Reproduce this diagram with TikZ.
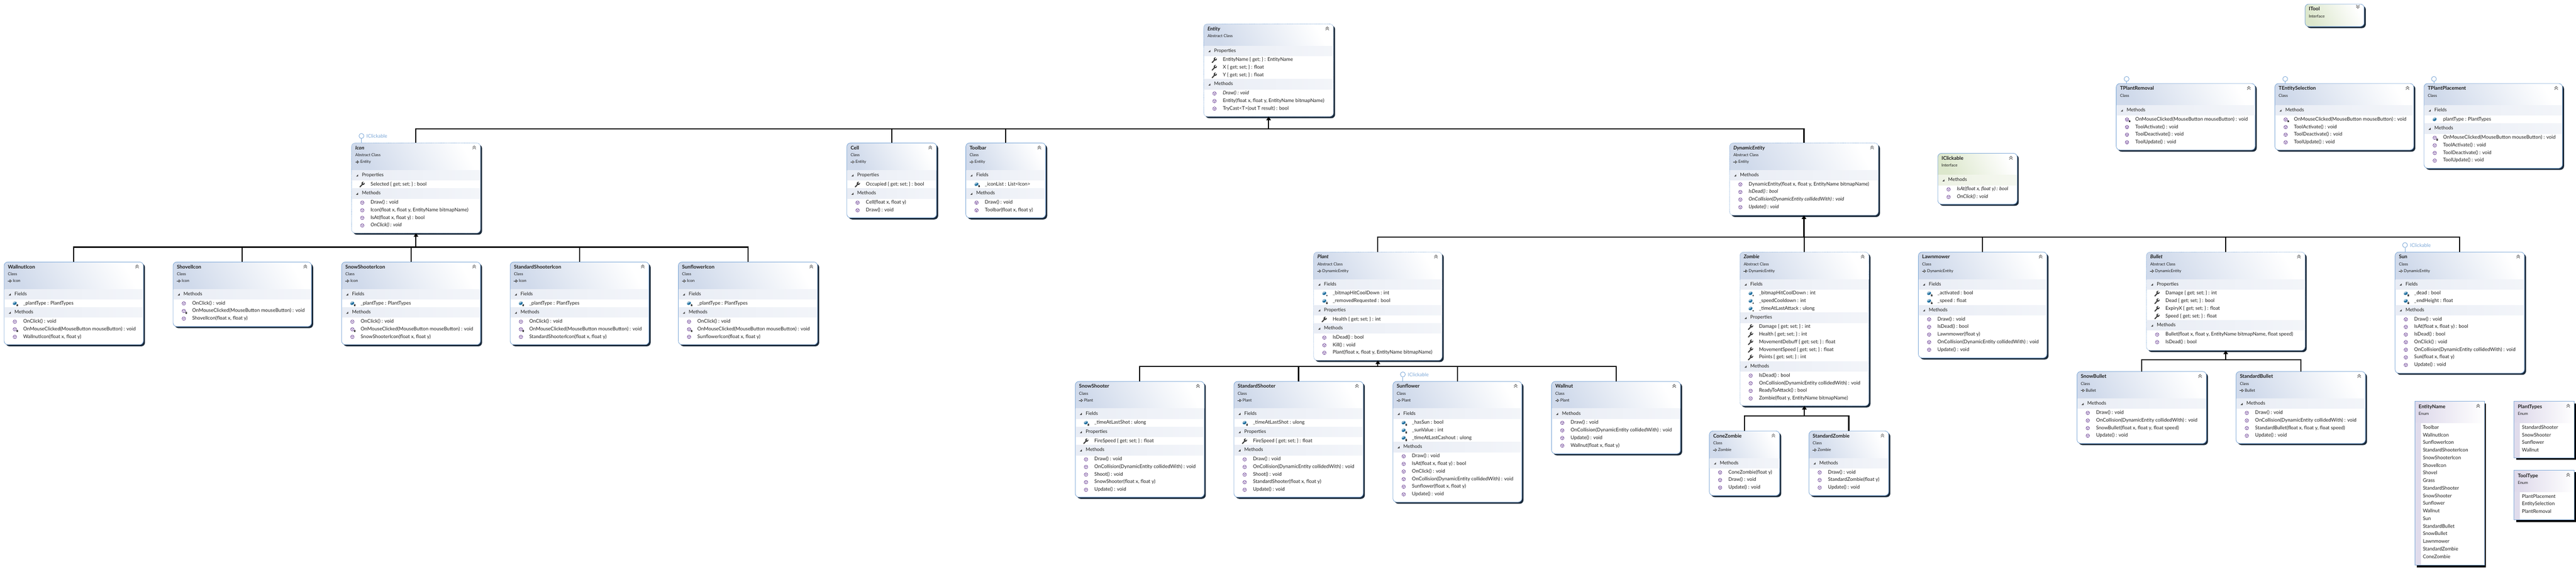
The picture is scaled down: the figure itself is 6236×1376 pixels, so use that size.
\documentclass[tikz,border=0pt]{standalone}
\usepackage{fontspec}
\setmainfont{Lato}
\usetikzlibrary{arrows.meta}
\definecolor{bord}{HTML}{7FA9D8}
\definecolor{shadowc}{HTML}{1B2A3A}
\definecolor{hdrabs}{HTML}{D0DAEB}
\definecolor{hdrcls}{HTML}{D0DAEB}
\definecolor{hdrifc}{HTML}{DCE7CC}
\definecolor{hdrenu}{HTML}{DDD8EA}
\definecolor{bandabs}{HTML}{E9EDF5}
\definecolor{bandcls}{HTML}{E9EDF5}
\definecolor{bandifc}{HTML}{EDF2E4}
\definecolor{txtc}{HTML}{1E1E1E}
\definecolor{methc}{HTML}{6A3E94}
\definecolor{fieldc}{HTML}{1F6F9F}
\definecolor{wrenchc}{HTML}{3C3C3C}
\definecolor{lolc}{HTML}{7CA8D8}
\tikzset{
  abs/.style={dash pattern=on 1.2pt off 1.2pt},
  cls/.style={},
  ifc/.style={},
  boxnode/.style={draw=bord,line width=1.1pt,inner sep=0pt,outer sep=0pt,rounded corners=9pt,anchor=north west},
  enumnode/.style={draw=bord,line width=1.1pt,inner sep=0pt,outer sep=0pt,anchor=north west},
  txtbase/.style={anchor=west,inner sep=0pt,text=txtc,text height=9pt,text depth=3pt},
  rowtxt/.style={txtbase,font=\fontsize{11.9}{14}\selectfont},
  subtxt/.style={txtbase,font=\fontsize{9.8}{13}\selectfont},
  sectxt/.style={txtbase,font=\fontsize{11.6}{14}\selectfont},
  titletxt/.style={txtbase,font=\fontsize{12.2}{15}\selectfont\bfseries},
  conn/.style={draw=black,line width=2.6pt,line join=miter},
  tipconn/.style={conn,-{Triangle[width=11pt,length=9pt]}},
  lolli/.style={circle,draw=lolc,line width=1.1pt,minimum size=12pt,inner sep=0pt,fill=white},
  lolline/.style={draw=lolc,line width=1.1pt},
  lollab/.style={txtbase,text=lolc,font=\fontsize{11.9}{14}\selectfont},
}
\newcount\lblid
\newcommand\Nd[3]{\global\advance\lblid by 1 \node[#1] (lbl\the\lblid) at (#2) {#3};}
\newcommand\setv[2]{\pgfmathsetmacro\tmpv{#2}\global\let#1\tmpv}
\newcommand\chev[3]{% x,y,dir
  \draw[draw=black!60,line width=1.2pt] ({#1-4},{#2+#3*2}) -- (#1,{#2-#3*2}) -- ({#1+4},{#2+#3*2});
  \draw[draw=black!60,line width=1.2pt] ({#1-4},{#2+#3*6}) -- (#1,{#2+#3*2}) -- ({#1+4},{#2+#3*6});}
\newcommand\classbox[9]{% name,L,T,R,B,style,title,sub,ext
  \pgfmathsetmacro\bw{#4-#2}\pgfmathsetmacro\bh{#5-#3}
  \gdef\curL{#2}\gdef\curR{#4}\gdef\curS{#6}
  \fill[shadowc,rounded corners=9pt] ({#2+4},{#3+4}) rectangle ({#4+4},{#5+4});
  \fill[white,rounded corners=9pt] (#2,#3) rectangle (#4,#5);
  \if\relax\detokenize{#9}\relax\setv\hdrb{#3+53}\else\setv\hdrb{#3+66}\fi
  \begin{scope}
    \clip[rounded corners=9pt] (#2,#3) rectangle (#4,#5);
    \shade[top color=white,bottom color=hdr#6,shading angle=-62] (#2,#3) rectangle (#4,\hdrb);
  \end{scope}
  \node[boxnode,#6,minimum width=\bw pt,minimum height=\bh pt] (#1) at (#2,#3) {};
  \Nd{titletxt}{{#2+9},{#3+13}}{#7}
  \Nd{subtxt}{{#2+9},{#3+30}}{#8}
  \if\relax\detokenize{#9}\relax\else
    \draw[draw=txtc,line width=.8pt] ({#2+9},{#3+46}) -- ({#2+14},{#3+46});
    \draw[draw=txtc,line width=.8pt,fill=white] ({#2+14},{#3+43}) -- ({#2+18},{#3+46}) -- ({#2+14},{#3+49}) -- cycle;
    \Nd{subtxt}{{#2+21},{#3+46}}{#9}
  \fi
  \setv\cyv{\hdrb-10}
  \gdef\pitchv{18.4}
}
\newcommand\sect[1]{%
  \setv\cyv{\cyv+22}\gdef\pitchv{22.2}
  \shade[left color=band\curS,right color=band\curS!55!white] ({\curL+1},{\cyv-12}) rectangle ({\curR-1},{\cyv+12});
  \fill[black!75] ({\curL+11},{\cyv+3}) -- ({\curL+16},{\cyv+3}) -- ({\curL+16},{\cyv-2}) -- cycle;
  \Nd{sectxt}{{\curL+25},\cyv}{#1}
}
\newcommand\advrow{\setv\cyv{\cyv+\pitchv}\gdef\pitchv{18.4}\setv\icx{\curL+26}}
\newcommand\micon{\begin{scope}[shift={(\icx,\cyv)}]
  \draw[draw=methc,line width=.9pt] (0,0) circle (4.2pt);
  \draw[draw=methc,line width=.7pt] (-3.6,-2) -- (0,0) -- (3.6,-2) (0,0) -- (0,4);
  \end{scope}}
\newcommand\lockic{\begin{scope}[shift={(\icx,\cyv)}]
  \fill[black!75] (4,3) rectangle (8,7);
  \draw[black!75,line width=.6pt] (6,3) circle (1.4pt);
  \end{scope}}
\newcommand\staric{\begin{scope}[shift={(\icx,\cyv)}]
  \fill[black!75] (6,5) circle (1.8pt);
  \end{scope}}
\newcommand\wicon{\begin{scope}[shift={(\icx,\cyv)}]
  \draw[draw=wrenchc,line width=2.6pt,line cap=round] (-5.5,6) -- (1,-1);
  \fill[wrenchc] (2,-2.5) circle (4pt);
  \draw[draw=white,line width=2.4pt] (2,-2.5) -- (7,-7.5);
  \end{scope}}
\newcommand\ficon{\begin{scope}[shift={(\icx,\cyv)}]
  \fill[fieldc,rotate=30] (0,-.5) ellipse (5pt and 4pt);
  \fill[fieldc!45!white,rotate=30] (0,-2.5) ellipse (4pt and 1.6pt);
  \end{scope}}
\newcommand\rowtext[1]{\Nd{rowtxt}{{\curL+46},\cyv}{#1}}
\newcommand\mrow[1]{\advrow\micon\rowtext{#1}}
\newcommand\mirow[1]{\advrow\micon\rowtext{\textit{#1}}}
\newcommand\mprow[1]{\advrow\micon\lockic\rowtext{#1}}
\newcommand\prow[1]{\advrow\wicon\rowtext{#1}}
\newcommand\frow[1]{\advrow\ficon\lockic\rowtext{#1}}
\newcommand\fsrow[1]{\advrow\ficon\staric\rowtext{#1}}
\newcommand\forow[1]{\advrow\ficon\rowtext{#1}}
\newcommand\chevat[2]{\chev{#1-15}{#2+9}{1}}
% enum box: name,L,T,R,B,title
\newcommand\enumbox[6]{%
  \pgfmathsetmacro\bw{#4-#2}\pgfmathsetmacro\bh{#5-#3}
  \gdef\curL{#2}
  \fill[black] ({#2+5},{#3+5}) rectangle ({#4+4},{#5+5});
  \fill[white] (#2,#3) rectangle (#4,#5);
  \shade[left color=hdrenu,right color=white] (#2,#3) rectangle (#4,{#3+52});
  \fill[hdrenu!90!white] (#2,{#3+52}) rectangle ({#2+14},#5);
  \node[enumnode,minimum width=\bw pt,minimum height=\bh pt] (#1) at (#2,#3) {};
  \Nd{titletxt}{{#2+9},{#3+14}}{#6}
  \Nd{subtxt}{{#2+9},{#3+31}}{Enum}
  \chevat{#4}{#3}
  \setv\cyv{#3+45.6}
}
\newcommand\erow[1]{\setv\cyv{\cyv+18.4}\Nd{rowtxt}{{\curL+19},\cyv}{#1}}
\newcommand\lolly[5]{% name,x,y,target,label
  \node[lolli] (#1) at (#2,#3) {};
  \draw[lolline] (#1.south) -- (#1.south |- #4.north);
  \if\relax\detokenize{#5}\relax\else\Nd{lollab}{{#2+12},{#3+2}}{#5}\fi
}
\newcommand\gs{\{ get; set; \} : }
\begin{document}
\begin{tikzpicture}[x=1pt,y=-1pt]
\useasboundingbox (0,0) rectangle (6236,1376);
\fill[white] (0,0) rectangle (6236,1376);

\classbox{entity}{2914}{58}{3228}{282}{abs}{\textit{Entity}}{Abstract Class}{}
\chevat{3228}{58}
\sect{Properties}
\prow{EntityName \{ get; \} : EntityName}
\prow{X \gs float}
\prow{Y \gs float}
\sect{Methods}
\mirow{Draw() : void}
\mrow{Entity(float x, float y, EntityName bitmapName)}
\mrow{TryCast<T>(out T result) : bool}

\classbox{icon}{851}{346}{1163}{564}{abs}{\textit{Icon}}{Abstract Class}{Entity}
\chevat{1163}{346}
\sect{Properties}
\prow{Selected \gs bool}
\sect{Methods}
\mrow{Draw() : void}
\mrow{Icon(float x, float y, EntityName bitmapName)}
\mrow{IsAt(float x, float y) : bool}
\mirow{OnClick() : void}

\classbox{wallnuticon}{10}{634}{347}{834}{cls}{WallnutIcon}{Class}{Icon}
\chevat{347}{634}
\sect{Fields}
\frow{\_plantType : PlantTypes}
\sect{Methods}
\mrow{OnClick() : void}
\mprow{OnMouseClicked(MouseButton mouseButton) : void}
\mrow{WallnutIcon(float x, float y)}

\classbox{shovelicon}{419}{634}{754}{790}{cls}{ShovelIcon}{Class}{Icon}
\chevat{754}{634}
\sect{Methods}
\mrow{OnClick() : void}
\mprow{OnMouseClicked(MouseButton mouseButton) : void}
\mrow{ShovelIcon(float x, float y)}

\classbox{snowshootericon}{827}{634}{1163}{834}{cls}{SnowShooterIcon}{Class}{Icon}
\chevat{1163}{634}
\sect{Fields}
\frow{\_plantType : PlantTypes}
\sect{Methods}
\mrow{OnClick() : void}
\mprow{OnMouseClicked(MouseButton mouseButton) : void}
\mrow{SnowShooterIcon(float x, float y)}

\classbox{standardshootericon}{1235}{634}{1571}{834}{cls}{StandardShooterIcon}{Class}{Icon}
\chevat{1571}{634}
\sect{Fields}
\frow{\_plantType : PlantTypes}
\sect{Methods}
\mrow{OnClick() : void}
\mprow{OnMouseClicked(MouseButton mouseButton) : void}
\mrow{StandardShooterIcon(float x, float y)}

\classbox{sunflowericon}{1642}{634}{1979}{834}{cls}{SunflowerIcon}{Class}{Icon}
\chevat{1979}{634}
\sect{Fields}
\frow{\_plantType : PlantTypes}
\sect{Methods}
\mrow{OnClick() : void}
\mprow{OnMouseClicked(MouseButton mouseButton) : void}
\mrow{SunflowerIcon(float x, float y)}

\classbox{cell}{2050}{346}{2267}{527}{cls}{Cell}{Class}{Entity}
\chevat{2267}{346}
\sect{Properties}
\prow{Occupied \gs bool}
\sect{Methods}
\mrow{Cell(float x, float y)}
\mrow{Draw() : void}

\classbox{toolbar}{2338}{346}{2531}{527}{cls}{Toolbar}{Class}{Entity}
\chevat{2531}{346}
\sect{Fields}
\frow{\_iconList : List<Icon>}
\sect{Methods}
\mrow{Draw() : void}
\mrow{Toolbar(float x, float y)}

\classbox{dynamicentity}{4187}{346}{4547}{521}{abs}{\textit{DynamicEntity}}{Abstract Class}{Entity}
\chevat{4547}{346}
\sect{Methods}
\mrow{DynamicEntity(float x, float y, EntityName bitmapName)}
\mirow{IsDead() : bool}
\mirow{OnCollision(DynamicEntity collidedWith) : void}
\mirow{Update() : void}

\classbox{iclickable}{4691}{371}{4883}{494}{ifc}{IClickable}{Interface}{}
\chevat{4883}{371}
\sect{Methods}
\mirow{IsAt(float x, float y) : bool}
\mirow{OnClick() : void}

\classbox{itool}{5580}{10}{5723}{64}{ifc}{ITool}{Interface}{}
\chev{5708}{18}{-1}

\classbox{tplantremoval}{5123}{202}{5459}{363}{cls}{TPlantRemoval}{Class}{}
\chevat{5459}{202}
\sect{Methods}
\mprow{OnMouseClicked(MouseButton mouseButton) : void}
\mrow{ToolActivate() : void}
\mrow{ToolDeactivate() : void}
\mrow{ToolUpdate() : void}

\classbox{tentityselection}{5507}{202}{5843}{363}{cls}{TEntitySelection}{Class}{}
\chevat{5843}{202}
\sect{Methods}
\mprow{OnMouseClicked(MouseButton mouseButton) : void}
\mrow{ToolActivate() : void}
\mrow{ToolDeactivate() : void}
\mrow{ToolUpdate() : void}

\classbox{tplantplacement}{5868}{202}{6203}{407}{cls}{TPlantPlacement}{Class}{}
\chevat{6203}{202}
\sect{Fields}
\forow{plantType : PlantTypes}
\sect{Methods}
\mprow{OnMouseClicked(MouseButton mouseButton) : void}
\mrow{ToolActivate() : void}
\mrow{ToolDeactivate() : void}
\mrow{ToolUpdate() : void}

\classbox{plant}{3180}{610}{3491}{872}{abs}{\textit{Plant}}{Abstract Class}{DynamicEntity}
\chevat{3491}{610}
\sect{Fields}
\fsrow{\_bitmapHitCoolDown : int}
\frow{\_removedRequested : bool}
\sect{Properties}
\prow{Health \gs int}
\sect{Methods}
\mrow{IsDead() : bool}
\mrow{Kill() : void}
\mrow{Plant(float x, float y, EntityName bitmapName)}

\classbox{snowshooter}{2603}{923}{2915}{1203}{cls}{SnowShooter}{Class}{Plant}
\chevat{2915}{923}
\sect{Fields}
\frow{\_timeAtLastShot : ulong}
\sect{Properties}
\prow{FireSpeed \gs float}
\sect{Methods}
\mrow{Draw() : void}
\mrow{OnCollision(DynamicEntity collidedWith) : void}
\mrow{Shoot() : void}
\mrow{SnowShooter(float x, float y)}
\mrow{Update() : void}

\classbox{standardshooter}{2987}{923}{3300}{1203}{cls}{StandardShooter}{Class}{Plant}
\chevat{3300}{923}
\sect{Fields}
\frow{\_timeAtLastShot : ulong}
\sect{Properties}
\prow{FireSpeed \gs float}
\sect{Methods}
\mrow{Draw() : void}
\mrow{OnCollision(DynamicEntity collidedWith) : void}
\mrow{Shoot() : void}
\mrow{StandardShooter(float x, float y)}
\mrow{Update() : void}

\classbox{sunflower}{3372}{923}{3684}{1215}{cls}{Sunflower}{Class}{Plant}
\chevat{3684}{923}
\sect{Fields}
\frow{\_hasSun : bool}
\frow{\_sunValue : int}
\frow{\_timeAtLastCashout : ulong}
\sect{Methods}
\mrow{Draw() : void}
\mrow{IsAt(float x, float y) : bool}
\mrow{OnClick() : void}
\mrow{OnCollision(DynamicEntity collidedWith) : void}
\mrow{Sunflower(float x, float y)}
\mrow{Update() : void}

\classbox{wallnut}{3756}{923}{4068}{1098}{cls}{Wallnut}{Class}{Plant}
\chevat{4068}{923}
\sect{Methods}
\mrow{Draw() : void}
\mrow{OnCollision(DynamicEntity collidedWith) : void}
\mrow{Update() : void}
\mrow{Wallnut(float x, float y)}

\classbox{zombie}{4212}{610}{4524}{982}{abs}{\textit{Zombie}}{Abstract Class}{DynamicEntity}
\chevat{4524}{610}
\sect{Fields}
\fsrow{\_bitmapHitCoolDown : int}
\fsrow{\_speedCooldown : int}
\fsrow{\_timeAtLastAttack : ulong}
\sect{Properties}
\prow{Damage \gs int}
\prow{Health \gs int}
\prow{MovementDebuff \gs float}
\prow{MovementSpeed \gs float}
\prow{Points \gs int}
\sect{Methods}
\mrow{IsDead() : bool}
\mrow{OnCollision(DynamicEntity collidedWith) : void}
\mrow{ReadyToAttack() : bool}
\mrow{Zombie(float y, EntityName bitmapName)}

\classbox{conezombie}{4138}{1043}{4308}{1199}{cls}{ConeZombie}{Class}{Zombie}
\chevat{4308}{1043}
\sect{Methods}
\mrow{ConeZombie(float y)}
\mrow{Draw() : void}
\mrow{Update() : void}

\classbox{standardzombie}{4379}{1043}{4572}{1199}{cls}{StandardZombie}{Class}{Zombie}
\chevat{4572}{1043}
\sect{Methods}
\mrow{Draw() : void}
\mrow{StandardZombie(float y)}
\mrow{Update() : void}

\classbox{lawnmower}{4644}{610}{4955}{866}{cls}{Lawnmower}{Class}{DynamicEntity}
\chevat{4955}{610}
\sect{Fields}
\frow{\_activated : bool}
\frow{\_speed : float}
\sect{Methods}
\mrow{Draw() : void}
\mrow{IsDead() : bool}
\mrow{Lawnmower(float y)}
\mrow{OnCollision(DynamicEntity collidedWith) : void}
\mrow{Update() : void}

\classbox{bullet}{5196}{610}{5580}{848}{abs}{\textit{Bullet}}{Abstract Class}{DynamicEntity}
\chevat{5580}{610}
\sect{Properties}
\prow{Damage \gs int}
\prow{Dead \gs bool}
\prow{ExpiryX \gs float}
\prow{Speed \gs float}
\sect{Methods}
\mrow{Bullet(float x, float y, EntityName bitmapName, float speed)}
\mrow{IsDead() : bool}

\classbox{snowbullet}{5028}{899}{5341}{1073}{cls}{SnowBullet}{Class}{Bullet}
\chevat{5341}{899}
\sect{Methods}
\mrow{Draw() : void}
\mrow{OnCollision(DynamicEntity collidedWith) : void}
\mrow{SnowBullet(float x, float y, float speed)}
\mrow{Update() : void}

\classbox{standardbullet}{5413}{899}{5726}{1073}{cls}{StandardBullet}{Class}{Bullet}
\chevat{5726}{899}
\sect{Methods}
\mrow{Draw() : void}
\mrow{OnCollision(DynamicEntity collidedWith) : void}
\mrow{StandardBullet(float x, float y, float speed)}
\mrow{Update() : void}

\classbox{sun}{5798}{610}{6111}{903}{cls}{Sun}{Class}{DynamicEntity}
\chevat{6111}{610}
\sect{Fields}
\frow{\_dead : bool}
\frow{\_endHeight : float}
\sect{Methods}
\mrow{Draw() : void}
\mrow{IsAt(float x, float y) : bool}
\mrow{IsDead() : bool}
\mrow{OnClick() : void}
\mrow{OnCollision(DynamicEntity collidedWith) : void}
\mrow{Sun(float x, float y)}
\mrow{Update() : void}

\enumbox{entityname}{5846}{971}{6014}{1368}{EntityName}
\erow{Toolbar}\erow{WallnutIcon}\erow{SunflowerIcon}\erow{StandardShooterIcon}
\erow{SnowShooterIcon}\erow{ShovelIcon}\erow{Shovel}\erow{Grass}
\erow{StandardShooter}\erow{SnowShooter}\erow{Sunflower}\erow{Wallnut}
\erow{Sun}\erow{StandardBullet}\erow{SnowBullet}\erow{Lawnmower}
\erow{StandardZombie}\erow{ConeZombie}

\enumbox{planttypes}{6086}{971}{6232}{1108}{PlantTypes}
\erow{StandardShooter}\erow{SnowShooter}\erow{Sunflower}\erow{Wallnut}

\enumbox{tooltype}{6086}{1138}{6232}{1258}{ToolType}
\erow{PlantPlacement}\erow{EntitySelection}\erow{PlantRemoval}

% interface lollipops
\lolly{lolicon}{875}{329}{icon}{IClickable}
\lolly{lolsunflower}{3396}{906}{sunflower}{IClickable}
\lolly{lolsun}{5822}{593}{sun}{IClickable}
\lolly{loltr}{5148}{191}{tplantremoval}{}
\lolly{lolte}{5532}{191}{tentityselection}{}
\lolly{loltp}{5892}{191}{tplantplacement}{}

% inheritance connectors
\coordinate (busE) at ([yshift=-30pt]entity.south);
\draw[conn] (icon.north) |- (busE);
\draw[conn] (cell.north) |- (busE);
\draw[conn] (toolbar.north) |- (busE);
\draw[conn] (dynamicentity.north) |- (busE);
\draw[tipconn] (busE) -- (entity.south);

\coordinate (busI) at ([yshift=-34pt]icon.south);
\draw[conn] (wallnuticon.north) |- (busI);
\draw[conn] (shovelicon.north) |- (busI);
\draw[conn] (snowshootericon.north) |- (busI);
\draw[conn] (standardshootericon.north) |- (busI);
\draw[conn] (sunflowericon.north) |- (busI);
\draw[tipconn] (busI) -- (icon.south);

\coordinate (busD) at ([yshift=-53pt]dynamicentity.south);
\draw[conn] (plant.north) |- (busD);
\draw[conn] (zombie.north) |- (busD);
\draw[conn] (lawnmower.north) |- (busD);
\draw[conn] (bullet.north) |- (busD);
\draw[conn] (sun.north) |- (busD);
\draw[tipconn] (busD) -- (dynamicentity.south);

\coordinate (busP) at ([yshift=-15pt]plant.south);
\draw[conn] (snowshooter.north) |- (busP);
\draw[conn] (standardshooter.north) |- (busP);
\draw[conn] (sunflower.north) |- (busP);
\draw[conn] (wallnut.north) |- (busP);
\draw[tipconn] (busP) -- (plant.south);

\coordinate (busZ) at ([yshift=-25pt]zombie.south);
\draw[conn] (conezombie.north) |- (busZ);
\draw[conn] (standardzombie.north) |- (busZ);
\draw[tipconn] (busZ) -- (zombie.south);

\coordinate (busB) at ([yshift=-22pt]bullet.south);
\draw[conn] (snowbullet.north) |- (busB);
\draw[conn] (standardbullet.north) |- (busB);
\draw[tipconn] (busB) -- (bullet.south);
\end{tikzpicture}
\end{document}
